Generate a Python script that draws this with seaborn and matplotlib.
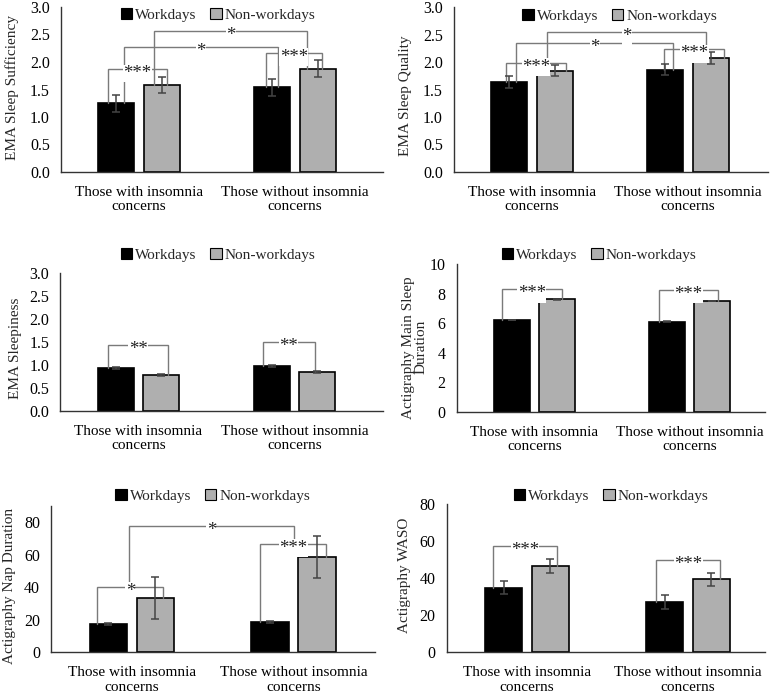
import numpy as np
import pandas as pd
import matplotlib
matplotlib.use("Agg")
import matplotlib.pyplot as plt
from matplotlib.patches import Patch
import seaborn as sns

# ---------------- data ----------------
groups = ["Those with insomnia\nconcerns", "Those without insomnia\nconcerns"]
days = ["Workdays", "Non-workdays"]

suff_work = [1.25, 1.54]
suff_non = [1.58, 1.88]
suff_err_work = [0.15, 0.15]
suff_err_non = [0.15, 0.15]

qual_work = [1.63, 1.86]
qual_non = [1.84, 2.07]
qual_err_work = [0.11, 0.10]
qual_err_non = [0.10, 0.11]

sleepy_work = [0.93, 0.98]
sleepy_non = [0.79, 0.85]
sleepy_err_work = [0.02, 0.02]
sleepy_err_non = [0.02, 0.02]

main_work = [6.22, 6.11]
main_non = [7.62, 7.51]
main_err_work = [0.03, 0.03]
main_err_non = [0.03, 0.03]

nap_work = [17.1, 18.4]
nap_non = [33.4, 58.5]
nap_err_work = [0.6, 0.6]
nap_err_non = [12.7, 12.7]

waso_work = [34.8, 27.3]
waso_non = [46.5, 39.4]
waso_err_work = [3.6, 3.7]
waso_err_non = [3.8, 3.6]

ylabels = ["EMA Sleep Sufficiency", "EMA Sleep Quality", "EMA Sleepiness",
           "Actigraphy Main Sleep\nDuration", "Actigraphy Nap Duration", "Actigraphy WASO"]

# significance brackets: (x_left, x_right, top, left_leg_bottom, right_leg_bottom, label)
sig_suff = [(-0.20, 0.18, 1.87, suff_work[0], suff_non[0], "***"),
            (-0.096, 0.893, 2.28, suff_work[0], suff_work[1], "*"),
            (0.098, 1.079, 2.57, suff_non[0], suff_non[1], "*"),
            (0.814, 1.171, 2.17, suff_work[1], suff_non[1], "***")]
sig_qual = [(-0.167, 0.218, 1.99, qual_work[0], qual_non[0], "***"),
            (-0.103, 0.906, 2.35, qual_work[0], qual_work[1], "*"),
            (0.098, 1.115, 2.55, qual_non[0], qual_non[1], "*"),
            (0.848, 1.23, 2.23, qual_work[1], qual_non[1], "***")]
sig_sleepy = [(-0.194, 0.188, 1.43, sleepy_work[0], sleepy_non[0], "**"),
              (0.796, 1.127, 1.50, sleepy_work[1], sleepy_non[1], "**")]
sig_main = [(-0.208, 0.176, 8.30, main_work[0], main_non[0], "***"),
            (0.803, 1.179, 8.26, main_work[1], main_non[1], "***")]
sig_nap = [(-0.213, 0.194, 40.2, nap_work[0], nap_non[0], "*"),
           (0.795, 1.199, 66.7, nap_work[1], nap_non[1], "***"),
           (-0.017, 1.0, 77.5, 40.2, 66.7, "*")]
sig_waso = [(-0.215, 0.188, 57.4, waso_work[0], waso_non[0], "***"),
            (0.801, 1.199, 49.8, waso_work[1], waso_non[1], "***")]

# ---------------- style ----------------
sns.set_theme(style="white")
plt.rcParams["font.family"] = ["Liberation Serif", "DejaVu Serif"]

W, H = 771, 694
fig = plt.figure(figsize=(W / 100, H / 100), dpi=100)

BLACK = "#000000"
GRAY = "#afafaf"
palette = {"Workdays": BLACK, "Non-workdays": GRAY}

panels = [
    dict(work=suff_work, non=suff_non, ew=suff_err_work, en=suff_err_non, sig=sig_suff,
         box=(61, 383, 7, 172), ylim=(0, 3), ticks=np.arange(0, 3.01, 0.5), fmt="{:.1f}",
         xr=1.564, leg=(218, 15), lab=(12, 0.512)),
    dict(work=qual_work, non=qual_non, ew=qual_err_work, en=qual_err_non, sig=sig_qual,
         box=(454, 768, 7.3, 171.7), ylim=(0, 3), ticks=np.arange(0, 3.01, 0.5), fmt="{:.1f}",
         xr=1.513, leg=(619.5, 15.7), lab=(405, 0.462)),
    dict(work=sleepy_work, non=sleepy_non, ew=sleepy_err_work, en=sleepy_err_non, sig=sig_sleepy,
         box=(60.3, 383, 272.7, 411), ylim=(0, 3), ticks=np.arange(0, 3.01, 0.5), fmt="{:.1f}",
         xr=1.565, leg=(218, 254.7), lab=(15, 0.453)),
    dict(work=main_work, non=main_non, ew=main_err_work, en=main_err_non, sig=sig_main,
         box=(456.7, 765, 264.3, 411.7), ylim=(0, 10), ticks=np.arange(0, 10.1, 2), fmt="{:.0f}",
         xr=1.484, leg=(599, 255), lab=(415, 0.437)),
    dict(work=nap_work, non=nap_non, ew=nap_err_work, en=nap_err_non, sig=sig_nap,
         box=(51, 375, 505.7, 652.3), ylim=(0, 90), ticks=np.arange(0, 81, 20), fmt="{:.0f}",
         xr=1.503, leg=(212.5, 495.7), lab=(10, 0.455)),
    dict(work=waso_work, non=waso_non, ew=waso_err_work, en=waso_err_non, sig=sig_waso,
         box=(446.7, 765, 504, 652.3), ylim=(0, 80), ticks=np.arange(0, 81, 20), fmt="{:.0f}",
         xr=1.478, leg=(611, 495.7), lab=(405, 0.517)),
]

FS = 11

for p, ylabel in zip(panels, ylabels):
    l, r, t, b = p["box"]
    ax = fig.add_axes([l / W, (H - b) / H, (r - l) / W, (b - t) / H])
    df = pd.DataFrame({
        "group": groups * 2,
        "day": [days[0]] * len(groups) + [days[1]] * len(groups),
        "value": list(p["work"]) + list(p["non"]),
    })
    sns.barplot(data=df, x="group", y="value", hue="day", hue_order=days, order=groups,
                palette=palette, width=0.58, gap=0.2, edgecolor="black", linewidth=1.2,
                errorbar=None, legend=False, saturation=1, ax=ax)

    errs = [p["ew"], p["en"]]
    for cont, err in zip(ax.containers, errs):
        for bar, e in zip(cont, err):
            cx = bar.get_x() + bar.get_width() / 2
            ax.errorbar(cx, bar.get_height(), yerr=e, fmt="none", ecolor="#444444",
                        elinewidth=1.1, capsize=3.2, capthick=1.1, zorder=4)

    for (xl, xr_, top, yl, yr, lab) in p["sig"]:
        ax.plot([xl, xl, xr_, xr_], [yl, top, top, yr], color="#7a7a7a", lw=1.0, zorder=3,
                solid_joinstyle="miter")
        ax.annotate(lab, xy=((xl + xr_) / 2, top), xytext=(0, -3.2), textcoords="offset points",
                    ha="center", va="center", fontsize=13.5, color="#222222", zorder=5,
                    bbox=dict(facecolor="white", edgecolor="none", pad=0.3))

    ax.set_xlim(-0.5, p["xr"])
    ax.set_ylim(*p["ylim"])
    ax.set_yticks(p["ticks"])
    ax.set_yticklabels([p["fmt"].format(v) for v in p["ticks"]], fontsize=11.5)
    ax.set_xlabel("")
    ax.set_ylabel(ylabel, fontsize=FS, va="center", linespacing=1.0)
    lx, ly = p["lab"]
    ax.yaxis.set_label_coords((lx - l) / (r - l), ly)
    ax.tick_params(axis="both", length=0, colors="black")
    ax.tick_params(axis="y", pad=8)
    ax.tick_params(axis="x", pad=10, labelsize=FS)
    for lbl in ax.get_xticklabels():
        lbl.set_linespacing(1.15)
    for s in ["top", "right"]:
        ax.spines[s].set_visible(False)
    for s in ["left", "bottom"]:
        ax.spines[s].set_color("#333333")
        ax.spines[s].set_linewidth(1.0)

    handles = [Patch(facecolor=BLACK, edgecolor="black", linewidth=0.8),
               Patch(facecolor=GRAY, edgecolor="black", linewidth=0.8)]
    cx, cy = p["leg"]
    ax.legend(handles, days, loc="center", bbox_to_anchor=(cx / W, 1 - cy / H),
              bbox_transform=fig.transFigure, ncol=2, frameon=False, fontsize=FS,
              handlelength=0.75, handleheight=0.75, handletextpad=0.2, columnspacing=0.9,
              borderaxespad=0, borderpad=0)

fig.savefig("out.png", dpi=100, facecolor="white")
